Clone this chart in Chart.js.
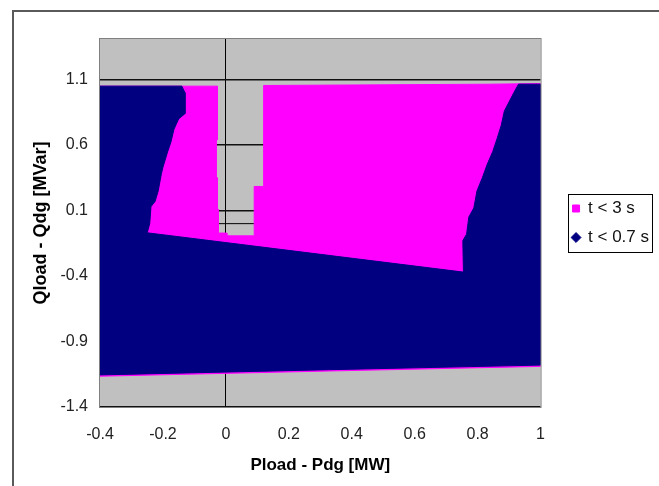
<!DOCTYPE html>
<html lang="en">
<head>
<meta charset="UTF-8">
<title>Qload - Qdg vs Pload - Pdg</title>
<style>
  body { margin: 0; background: #fff; }
  .wrap { position: relative; width: 659px; height: 486px; overflow: hidden; }
  .frame {
    position: absolute; left: 12px; top: 10px; right: -10px; bottom: -10px;
    border-left: 2px solid #5a5a5a; border-top: 2px solid #5a5a5a;
    pointer-events: none;
  }
  canvas { display: block; }
</style>
<script src="https://cdn.jsdelivr.net/npm/chart.js"></script>
</head>
<body>
<div class="wrap">
  <canvas id="grafico" width="659" height="486"></canvas>
  <div class="frame"></div>
</div>
<script>
  const xTicks = [-0.4, -0.2, 0, 0.2, 0.4, 0.6, 0.8, 1];
  const xTickLabels = ['-0.4', '-0.2', '0', '0.2', '0.4', '0.6', '0.8', '1'];
  const yTicks = [-1.4, -0.9, -0.4, 0.1, 0.6, 1.1];
  const yTickLabels = ['-1.4', '-0.9', '-0.4', '0.1', '0.6', '1.1'];
  const seriesNames = ['t < 3 s', 't < 0.7 s'];

  // outline of the t < 3 s area
  const slowX = [-0.4, -0.027, -0.027, -0.031, -0.031, -0.027, -0.027, -0.024, -0.024, 0.003, 0.003, 0.09, 0.09, 0.12, 0.12, 0.84, 1, 1, 0.33, -0.4];
  const slowY = [1.05, 1.05, 0.64, 0.64, 0.35, 0.35, 0.11, 0.11, -0.072, -0.072, -0.093, -0.093, 0.284, 0.284, 1.055, 1.065, 1.07, -1.09, -1.125, -1.165];

  // outline of the t < 0.7 s area
  const fastX = [-0.4, -0.14, -0.13, -0.13, -0.15, -0.165, -0.175, -0.185, -0.2, -0.205, -0.215, -0.225, -0.238, -0.242, -0.25,
                 0.755, 0.753, 0.765, 0.772, 0.788, 0.798, 0.815, 0.83, 0.848, 0.862, 0.875, 0.885, 0.9, 0.915, 0.93, 1,
                 1, 0.33, -0.4];
  const fastY = [1.05, 1.05, 1.0, 0.84, 0.80, 0.72, 0.62, 0.55, 0.43, 0.38, 0.25, 0.17, 0.13, 0.0, -0.07,
                 -0.37, -0.13, -0.08, 0.05, 0.12, 0.25, 0.35, 0.45, 0.55, 0.65, 0.75, 0.86, 0.93, 1.0, 1.065, 1.065,
                 -1.08, -1.115, -1.155];

  // x axis crossing line (Q = 0)
  const axisLineX = [-0.4, 1];
  const axisLineY = [0, 0];

  const pts = (xs, ys) => xs.map((x, i) => ({ x: x, y: ys[i] }));

  Chart.defaults.font.family = '"Liberation Sans", Arial, sans-serif';
  Chart.defaults.color = '#222';

  const plotFrame = {
    id: 'plotFrame',
    beforeDraw(chart) {
      const a = chart.chartArea, ctx = chart.ctx;
      ctx.save();
      ctx.fillStyle = '#c0c0c0';
      ctx.fillRect(a.left, a.top, a.right - a.left, a.bottom - a.top);
      ctx.restore();
    },
    afterDatasetsDraw(chart) {
      const a = chart.chartArea, ctx = chart.ctx;
      ctx.save();
      ctx.strokeStyle = '#808080';
      ctx.lineWidth = 1;
      ctx.strokeRect(a.left - 0.5, a.top - 0.5, a.right - a.left + 1, a.bottom - a.top + 1);
      ctx.restore();
    },
    afterDraw(chart) {
      const hb = chart.legend.legendHitBoxes;
      if (!hb || !hb.length) return;
      const ctx = chart.ctx;
      const l = Math.round(hb[0].left - 5) + 0.5;
      const t = Math.round(hb[0].top - 6) + 0.5;
      const r = Math.round(Math.max(...hb.map(h => h.left + h.width)) + 3) + 0.5;
      const last = hb[hb.length - 1];
      const b = Math.round(last.top + last.height + 6) + 0.5;
      ctx.save();
      ctx.strokeStyle = '#000';
      ctx.lineWidth = 1;
      ctx.strokeRect(l, t, r - l, b - t);
      ctx.restore();
    }
  };

  new Chart(document.getElementById('grafico'), {
    type: 'scatter',
    data: {
      datasets: [
        {
          label: seriesNames[0],
          data: pts(slowX, slowY),
          showLine: true,
          fill: 'shape',
          backgroundColor: '#ff00ff',
          borderColor: '#ff00ff',
          borderWidth: 1,
          pointRadius: 0,
          pointStyle: 'rect',
          pointBackgroundColor: '#ff00ff',
          pointBorderColor: '#ff00ff',
          order: 2
        },
        {
          label: seriesNames[1],
          data: pts(fastX, fastY),
          showLine: true,
          fill: 'shape',
          backgroundColor: '#000080',
          borderColor: '#000080',
          borderWidth: 1,
          pointRadius: 0,
          pointStyle: 'rectRot',
          pointBackgroundColor: '#000080',
          pointBorderColor: '#000080',
          order: 1
        },
        {
          label: 'axis',
          data: pts(axisLineX, axisLineY),
          showLine: true,
          fill: false,
          borderColor: '#000',
          borderWidth: 1,
          pointRadius: 0,
          order: 3
        }
      ]
    },
    options: {
      responsive: false,
      animation: false,
      layout: { padding: { top: 39, left: 20, right: 0, bottom: 0 } },
      plugins: {
        tooltip: { enabled: false },
        legend: {
          position: 'right',
          fullSize: false,
          labels: {
            usePointStyle: true,
            boxWidth: 7,
            boxHeight: 7,
            padding: 12,
            color: '#111',
            font: { size: 17 },
            filter: item => item.datasetIndex < 2,
            sort: (a, b) => a.datasetIndex - b.datasetIndex
          }
        }
      },
      scales: {
        x: {
          type: 'linear',
          min: -0.4,
          max: 1,
          afterBuildTicks: s => { s.ticks = xTicks.map(v => ({ value: v })); },
          afterFit: s => { s.height = 79; },
          ticks: {
            padding: 18,
            font: { size: 16 },
            callback: (v, i) => xTickLabels[i]
          },
          grid: {
            drawTicks: false,
            color: c => (c.tick && c.tick.value === 0 ? '#000' : 'rgba(0,0,0,0)')
          },
          border: { display: false },
          title: {
            display: true,
            text: 'Pload - Pdg [MW]',
            color: '#000',
            font: { size: 17, weight: 'bold' },
            padding: { top: 4, bottom: 10 }
          }
        },
        y: {
          type: 'linear',
          min: -1.4,
          max: 1.41,
          afterBuildTicks: s => { s.ticks = yTicks.map(v => ({ value: v })); },
          afterFit: s => { s.width = 80; },
          ticks: {
            padding: 12,
            font: { size: 16 },
            callback: (v, i) => yTickLabels[i]
          },
          grid: {
            drawTicks: false,
            color: '#111',
            lineWidth: 1.5
          },
          border: { display: false },
          title: {
            display: true,
            text: 'Qload - Qdg [MVar]',
            color: '#000',
            font: { size: 18, weight: 'bold' },
            padding: { top: 10, bottom: 6 }
          }
        },
        yr: {
          type: 'linear',
          position: 'right',
          display: true,
          afterFit: s => { s.width = 20; },
          ticks: { display: false },
          grid: { display: false },
          border: { display: false }
        }
      }
    },
    plugins: [plotFrame]
  });
</script>
</body>
</html>
